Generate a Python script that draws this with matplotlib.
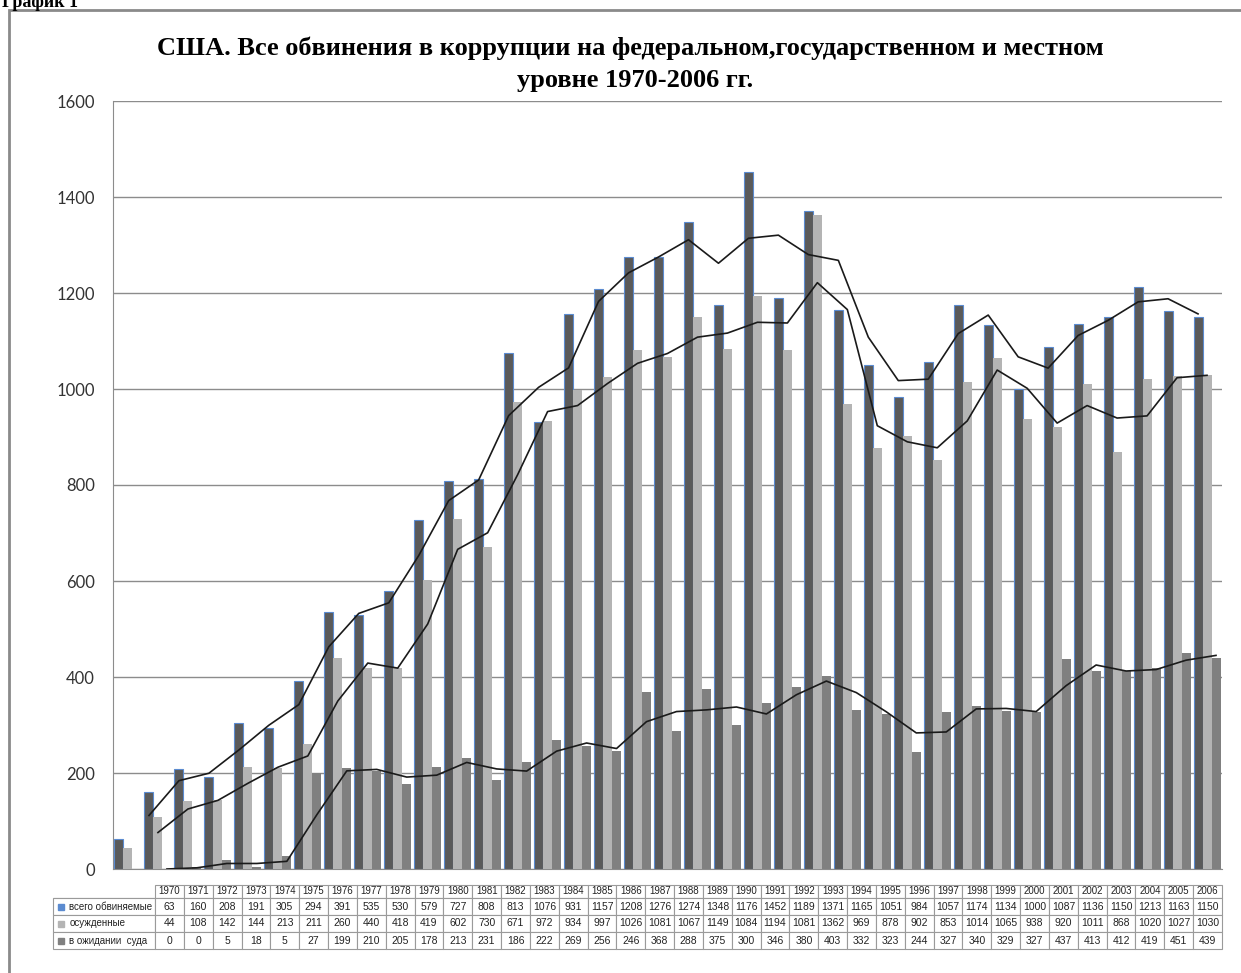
import matplotlib.pyplot as plt
import numpy as np
from matplotlib.patches import Rectangle

# данные
years = [str(y) for y in range(1970, 2007)]
vsego = [63, 160, 208, 191, 305, 294, 391, 535, 530, 579, 727, 808, 813, 1076, 931,
         1157, 1208, 1276, 1274, 1348, 1176, 1452, 1189, 1371, 1165, 1051, 984, 1057,
         1174, 1134, 1000, 1087, 1136, 1150, 1213, 1163, 1150]
osuzhd = [44, 108, 142, 144, 213, 211, 260, 440, 418, 419, 602, 730, 671, 972, 934,
          997, 1026, 1081, 1067, 1149, 1084, 1194, 1081, 1362, 969, 878, 902, 853,
          1014, 1065, 938, 920, 1011, 868, 1020, 1027, 1030]
ozhid = [0, 0, 5, 18, 5, 27, 199, 210, 205, 178, 213, 231, 186, 222, 269,
         256, 246, 368, 288, 375, 300, 346, 380, 403, 332, 323, 244, 327,
         340, 329, 327, 437, 413, 412, 419, 451, 439]
labels = ['всего обвиняемые', 'осужденные', 'в ожидании  суда']

c_dark, c_light, c_mid = '#5a5a5a', '#b4b4b4', '#808080'
edge_blue = '#5b8bd0'

def ma2(v):
    # скользящее среднее по 2 точкам (линия тренда)
    v = np.array(v, dtype=float)
    return (v[1:] + v[:-1]) / 2

fig = plt.figure(figsize=(12.41, 9.73), dpi=100)
ax = fig.add_axes([113/1241, 1-869/973, 1109/1241, 768/973])

x = np.arange(len(years))
w = 0.3
ax.bar(x - w, vsego, w, color=c_dark, edgecolor=edge_blue, linewidth=0.8, zorder=3)
ax.bar(x, osuzhd, w, color=c_light, linewidth=0, zorder=3)
ax.bar(x + w, ozhid, w, color=c_mid, linewidth=0, zorder=3)

ax.plot(x[1:] - w, ma2(vsego), color='#1a1a1a', lw=1.2, zorder=4)
ax.plot(x[1:], ma2(osuzhd), color='#1a1a1a', lw=1.2, zorder=4)
ax.plot(x[1:] + w, ma2(ozhid), color='#1a1a1a', lw=1.2, zorder=4)

ax.set_xlim(-0.5, len(years) - 0.5)
ax.set_ylim(0, 1600)
ax.set_yticks(range(0, 1601, 200))
ax.set_xticks([])
ax.tick_params(axis='y', length=0, pad=13, labelsize=12, labelcolor='#333333')
for t in ax.get_yticklabels():
    t.set_family('Lato')
ax.grid(axis='y', color='#8c8c8c', lw=1, zorder=0)
for s in ['top', 'right']:
    ax.spines[s].set_visible(False)
ax.spines['left'].set_color('#8c8c8c')
ax.spines['bottom'].set_color('#8c8c8c')

# таблица данных
cell = [[''] + years]
for lab, ser in zip(labels, [vsego, osuzhd, ozhid]):
    cell.append([lab] + [str(v) for v in ser])
cw = [102] + [1067 / 37] * 37
tb = ax.table(cellText=cell, colWidths=[c / sum(cw) for c in cw], cellLoc='center',
              bbox=[-60/1109, -80/768, 1169/1109, 64/768])
tb.auto_set_font_size(False)
tb.set_fontsize(7.5)
for (r, c), cl in tb.get_celld().items():
    cl.set_edgecolor('#9a9a9a')
    cl.set_linewidth(0.8)
    cl.get_text().set_color('#222222')
    cl.get_text().set_family('Liberation Sans')
    cl.set_height(13 if r == 0 else 17)
    if c == 0:
        cl.get_text().set_ha('left')
        cl.get_text().set_fontsize(7)
        cl.PAD = 0.16
    if r == 0:
        cl.get_text().set_fontsize(7)
    if r == 0 and c == 0:
        cl.visible_edges = 'B'
# маркеры легенды в таблице
for k, fc in enumerate([edge_blue, c_light, c_mid]):
    yy = (-80 + 17 * (2 - k) + 8.5) / 768
    ax.plot([-52/1109], [yy], marker='s', ms=5, color=fc, mec=fc,
            transform=ax.transAxes, clip_on=False)

fig.text(630/1241, 1-48/973, 'США. Все обвинения в коррупции на федеральном,государственном и местном',
         ha='center', va='center', family='Liberation Serif', weight='bold', fontsize=19)
fig.text(635/1241, 1-80/973, 'уровне 1970-2006 гг.',
         ha='center', va='center', family='Liberation Serif', weight='bold', fontsize=19)
fig.text(2/1241, 1-7/973, 'График 1', ha='left', va='baseline',
         family='Liberation Serif', weight='bold', fontsize=13)

fig.add_artist(Rectangle((9/1241, -0.02), 1.1, 1.02 - 10/973, transform=fig.transFigure,
                         fill=False, edgecolor='#8a8a8a', lw=2))

fig.savefig('out.png', dpi=100)
